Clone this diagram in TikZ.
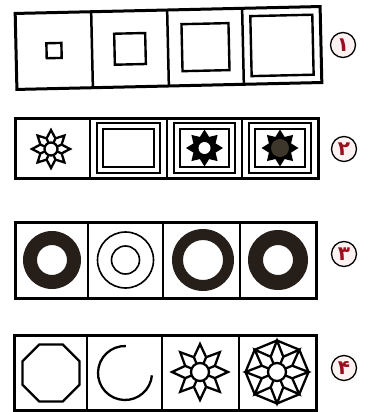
\documentclass[tikz,border=0pt]{standalone}
\usepackage{fontspec}
\newfontfamily\fa[Script=Arabic]{DejaVu Sans}
\definecolor{ringc}{rgb}{0.15,0.12,0.10}
\definecolor{numc}{rgb}{0.62,0.05,0.12}
\definecolor{labfill}{rgb}{0.99,0.95,0.95}
\definecolor{darkdot}{rgb}{0.24,0.21,0.17}
\newcommand\mystar[3]{\path[#1] (90:#2) \foreach \k in {0,...,7}{ -- ({112.5+\k*45}:#3) -- ({135+\k*45}:#2)} -- cycle;}
\newcommand\myspokes[3]{\foreach \k in {0,...,7}{\draw[#1] ({112.5+\k*45}:#2) -- ({112.5+\k*45}:#3);}}
\begin{document}
\begin{tikzpicture}[x=1pt,y=-1pt,
 frame/.style={line width=3pt},
 divider/.style={line width=2.5pt},
 sq/.style={line width=2.4pt},
 nest/.style={line width=2pt},
 thinc/.style={line width=1.6pt},
 starline/.style={line width=2.3pt,line join=miter},
 lab/.style={circle,draw=black,line width=1.3pt,fill=labfill,minimum size=25pt,inner sep=0pt,text=numc,font=\fa\bfseries\fontsize{20}{20}\selectfont}]
\useasboundingbox[fill=white] (0,0) rectangle (368,412);

% ---------- Row 1 ----------
\begin{scope}[rotate around={1.3:(168,48)}]
\draw[frame] (16,10) rectangle (321,86);
\draw[divider] (92,10) -- (92,86) (168,10) -- (168,86) (243,10) -- (243,86);
\draw[sq] (54,48) ++(-7.5,-7.5) rectangle ++(15,15);
\draw[sq] (130,48) ++(-15.5,-15.5) rectangle ++(31,31);
\draw[sq] (205.5,48) ++(-23.5,-23.5) rectangle ++(47,47);
\draw[sq] (282,48) ++(-31,-30) rectangle ++(62,60);
\end{scope}
\node[lab] (l1) at (343,45) {۱};

% ---------- Row 2 ----------
\draw[frame] (15,118) rectangle (318,178);
\draw[divider] (90,118) -- (90,178) (167,118) -- (167,178) (242,118) -- (242,178);
\begin{scope}[shift={(51,149)}]
\mystar{draw,starline}{19}{11.5}
\draw[starline] (0,0) circle (6.5);
\myspokes{starline}{11.5}{6.5}
\end{scope}
\draw[nest] (97,123) rectangle (160,173);
\draw[nest] (103,129) rectangle (154,167);
\draw[nest] (174,123) rectangle (235,173);
\draw[nest] (180,129) rectangle (229,167);
\draw[nest] (249,123) rectangle (311,173);
\draw[nest] (255,129) rectangle (305,167);
\begin{scope}[shift={(204.5,148)}]
\mystar{fill=black}{18.5}{12}
\fill[white] (0,0) circle (6);
\end{scope}
\begin{scope}[shift={(280,148)}]
\mystar{fill=black}{18.5}{12}
\fill[darkdot] (0,0) circle (9);
\end{scope}
\node[lab] (l2) at (344,149) {۲};

% ---------- Row 3 ----------
\draw[frame] (15,222) rectangle (316,298);
\draw[divider] (88,222) -- (88,298) (163,222) -- (163,298) (240,222) -- (240,298);
\fill[ringc,even odd rule] (52,260) circle (29) (52,260) circle (15);
\draw[thinc] (125.5,260) circle (28) (125.5,260) circle (14);
\fill[ringc,even odd rule] (203,260) circle (31) (203,260) circle (20);
\fill[ringc,even odd rule] (278,260) circle (30) (278,260) circle (15);
\node[lab] (l3) at (344,254) {۳};

% ---------- Row 4 ----------
\draw[frame] (14,335) rectangle (316,410);
\draw[divider] (87,335) -- (87,410) (162,335) -- (162,410) (239,335) -- (239,410);
\begin{scope}[shift={(51,373)}]
\draw[starline] (22.5:30.8) \foreach \k in {1,...,7}{ -- ({22.5+\k*45}:30.8)} -- cycle;
\end{scope}
\begin{scope}[shift={(125,373)}]
\draw[starline] (272:27) arc[start angle=272, end angle=5, radius=27];
\end{scope}
\begin{scope}[shift={(200,372)}]
\mystar{draw,starline}{28}{16}
\draw[starline] (0,0) circle (9);
\myspokes{starline}{16}{9}
\end{scope}
\begin{scope}[shift={(277,372)}]
\draw[starline] (90:31.5) \foreach \k in {1,...,7}{ -- ({90+\k*45}:31.5)} -- cycle;
\mystar{draw,starline}{31.5}{16.5}
\draw[starline] (0,0) circle (9);
\myspokes{starline}{16.5}{9}
\end{scope}
\node[lab] (l4) at (344,368) {۴};
\end{tikzpicture}
\end{document}
